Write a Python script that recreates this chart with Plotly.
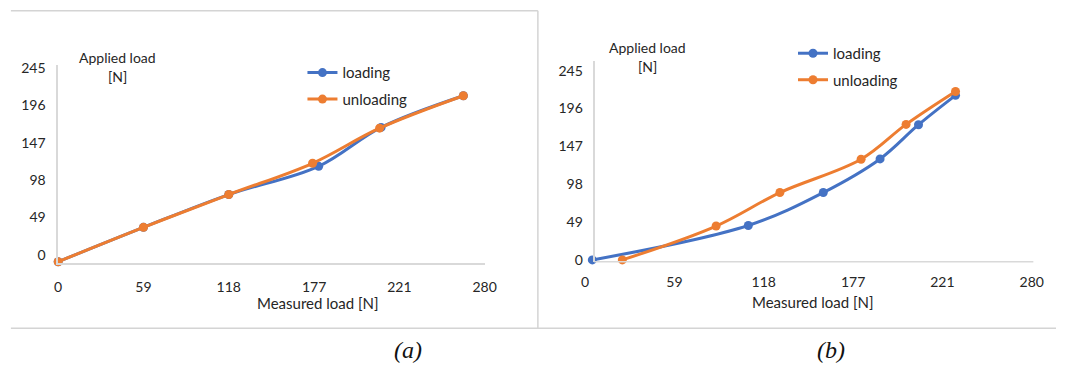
import plotly.graph_objects as go

W, H = 1068, 376

# ---- data (x in axis units 0..280 positioned on equally spaced labelled ticks) ----
x_ticks = [0, 56, 112, 168, 224, 280]
x_ticktext = ["0", "59", "118", "177", "221", "280"]
y_ticks = [0, 49, 98, 147, 196, 245]
y_ticktext = ["0", "49", "98", "147", "196", "245"]

a_load_x = [0, 56, 112, 171, 212, 266]
a_load_y = [-9, 36, 79, 116, 167, 208.5]
a_unload_x = [0, 56, 112, 167, 211, 266]
a_unload_y = [-9, 36, 79, 120, 166, 208.5]

b_load_x = [4.5, 102.3, 149.3, 184.9, 209, 232.2]
b_load_y = [0, 44.6, 87.2, 130.7, 175, 213]
b_unload_x = [23.3, 82.1, 122.1, 173, 201.2, 232.2]
b_unload_y = [0, 43.9, 87.2, 130.3, 175.4, 218]

BLUE = "#4472C4"
ORANGE = "#ED7D31"
AX = "#d9d9d9"
TXT = "#262626"
FONT = "Lato"


def px(x):
    return x / W


def py(y):
    return 1 - y / H


fig = go.Figure()


def add(xs, ys, name, color, xa, ya, legend, group):
    fig.add_trace(go.Scatter(
        x=xs, y=ys, name=name, mode="lines+markers",
        line=dict(color=color, width=3, shape="spline", smoothing=1.0),
        marker=dict(color=color, size=9),
        xaxis=xa, yaxis=ya, legend=legend, legendgroup=group,
        cliponaxis=False,
    ))


add(a_load_x, a_load_y, "loading", BLUE, "x", "y", "legend", "a1")
add(a_unload_x, a_unload_y, "unloading", ORANGE, "x", "y", "legend", "a2")
add(b_load_x, b_load_y, "loading", BLUE, "x2", "y2", "legend2", "b1")
add(b_unload_x, b_unload_y, "unloading", ORANGE, "x2", "y2", "legend2", "b2")

tickfont = dict(family=FONT, size=14, color=TXT)
common_x = dict(tickmode="array", tickvals=x_ticks, ticktext=x_ticktext, showgrid=False,
                zeroline=False, ticks="", tickfont=tickfont, ticklabelstandoff=10)
common_y = dict(tickmode="array", tickvals=y_ticks, ticktext=y_ticktext, showgrid=False,
                zeroline=False, ticks="", tickfont=tickfont, ticklabelstandoff=8)

legend_common = dict(font=dict(family=FONT, size=15, color=TXT), bgcolor="rgba(0,0,0,0)",
                     itemwidth=30, tracegroupgap=4, xanchor="left", yanchor="top")

fig.update_layout(
    width=W, height=H, margin=dict(l=0, r=0, t=0, b=0),
    paper_bgcolor="white", plot_bgcolor="white",
    font=dict(family=FONT, color=TXT),
    xaxis=dict(domain=[px(55), px(488)], range=[0, 280], anchor="y",
               showline=True, linecolor=AX, linewidth=1.5, **common_x),
    yaxis=dict(domain=[py(265.7), py(61)], range=[-11, 248.7], anchor="x",
               showline=True, linecolor=AX, linewidth=1.5, **common_y),
    xaxis2=dict(domain=[px(590), px(1045)], range=[0, 281], anchor="y2",
                showline=False, **common_x),
    yaxis2=dict(domain=[py(264.3), py(56.7)], range=[-2.5, 257.6], anchor="free",
                position=px(599.3),
                showline=True, linecolor=AX, linewidth=1.5, **common_y),
    legend=dict(x=px(303), y=py(52), **legend_common),
    legend2=dict(x=px(801), y=py(32), **legend_common),
    showlegend=True,
)

# right-panel x axis line (starts at the free y axis)
fig.add_shape(type="line", xref="paper", yref="paper", x0=px(599.3), x1=px(1045),
              y0=py(264.3), y1=py(264.3), line=dict(color=AX, width=1.5))

# panel frame lines
frame = dict(color="#d4d4d4", width=1.5)
fig.add_shape(type="line", xref="paper", yref="paper", x0=px(7), x1=px(542), y0=py(5), y1=py(5), line=frame)
fig.add_shape(type="line", xref="paper", yref="paper", x0=px(542), x1=px(542), y0=py(5), y1=py(333), line=frame)
fig.add_shape(type="line", xref="paper", yref="paper", x0=px(7), x1=px(1068), y0=py(333), y1=py(333), line=frame)

# axis titles
def ann(text, x, y, size=14, family=FONT, color=TXT):
    fig.add_annotation(text=text, x=px(x), y=py(y), xref="paper", yref="paper",
                       showarrow=False, xanchor="center", yanchor="middle",
                       font=dict(family=family, size=size, color=color))

ann("Applied load", 115, 53)
ann("[N]", 115, 73)
ann("Measured load [N]", 319, 307, size=15)
ann("Applied load", 653, 43)
ann("[N]", 653, 62)
ann("Measured load [N]", 821, 306, size=15)

# captions
ann("<i>(a)</i>", 410, 355, size=24, family="Liberation Serif", color="#111")
ann("<i>(b)</i>", 840, 355, size=24, family="Liberation Serif", color="#111")

fig.write_html("out.html", config={"displayModeBar": False},
               post_script="document.body.style.margin='0';document.body.style.overflow='hidden';")
